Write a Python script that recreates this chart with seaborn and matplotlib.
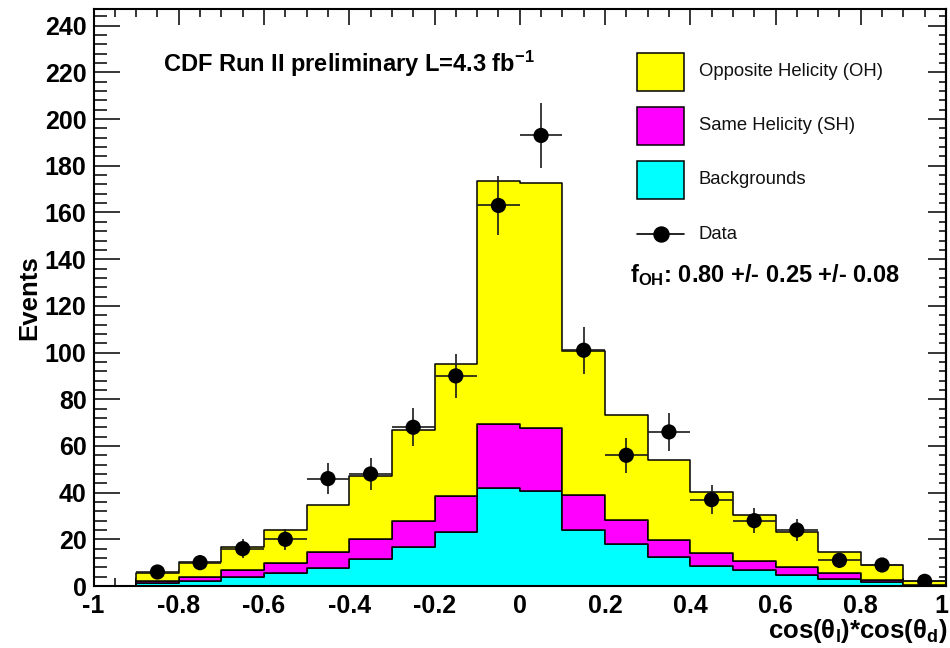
import numpy as np
import pandas as pd
import matplotlib
matplotlib.use("Agg")
import matplotlib.pyplot as plt
import seaborn as sns
from matplotlib.patches import Rectangle
from matplotlib.lines import Line2D
from matplotlib.ticker import MultipleLocator, FuncFormatter

# ---------------- data ----------------
bin_edges = [-1.0, -0.9, -0.8, -0.7, -0.6, -0.5, -0.4, -0.3, -0.2, -0.1, 0.0,
             0.1, 0.2, 0.3, 0.4, 0.5, 0.6, 0.7, 0.8, 0.9, 1.0]
bin_centers = [-0.95, -0.85, -0.75, -0.65, -0.55, -0.45, -0.35, -0.25, -0.15, -0.05,
               0.05, 0.15, 0.25, 0.35, 0.45, 0.55, 0.65, 0.75, 0.85, 0.95]
backgrounds = [0.0, 1.4, 2.0, 3.7, 5.4, 7.8, 11.4, 16.5, 23.0, 42.1,
               40.8, 24.2, 17.8, 12.3, 8.7, 6.7, 4.8, 3.1, 1.7, 0.4]
same_helicity = [0.0, 0.9, 2.0, 3.3, 4.6, 6.6, 8.6, 11.4, 15.6, 27.1,
                 26.7, 14.7, 10.3, 7.4, 5.6, 4.1, 3.2, 2.3, 0.7, 0.2]
opposite_helicity = [0.0, 3.4, 6.3, 9.5, 14.1, 20.1, 27.1, 38.8, 56.4, 104.5,
                     105.3, 61.6, 45.2, 34.2, 25.9, 19.7, 15.2, 9.1, 6.4, 1.7]

data_x = [-0.85, -0.75, -0.65, -0.55, -0.45, -0.35, -0.25, -0.15, -0.05,
          0.05, 0.15, 0.25, 0.35, 0.45, 0.55, 0.65, 0.75, 0.85, 0.95]
data_y = [6, 10, 16, 20, 46, 48, 68, 90, 163, 193, 101, 56, 66, 37, 28, 24, 11, 9, 2]
data_err = [2.4, 3.2, 4.0, 4.5, 6.8, 6.9, 8.2, 9.5, 12.8, 13.9, 10.0, 7.5, 8.1,
            6.1, 5.3, 4.9, 3.3, 3.0, 1.4]
bin_half_width = 0.05

components = ["Opposite Helicity (OH)", "Same Helicity (SH)", "Backgrounds"]
colors = ["#ffff00", "#ff00ff", "#00ffff"]
data_label = "Data"
title_text = "CDF Run II preliminary L=4.3 fb$^{-1}$"
fit_text = "f$_{OH}$: 0.80 +/- 0.25 +/- 0.08"
x_label = r"cos($\theta_{l}$)*cos($\theta_{d}$)"
y_label = "Events"
x_max_label = "1"

# ---------------- style ----------------
W, H = 950, 648
sns.set_theme(style="ticks")
plt.rcParams["font.family"] = ["Liberation Sans", "DejaVu Sans"]
plt.rcParams["font.weight"] = "bold"
plt.rcParams["mathtext.fontset"] = "custom"
plt.rcParams["mathtext.rm"] = "Liberation Sans:bold"
plt.rcParams["mathtext.it"] = "Liberation Sans:bold"
plt.rcParams["mathtext.bf"] = "Liberation Sans:bold"
plt.rcParams["mathtext.default"] = "regular"
plt.rcParams["axes.linewidth"] = 1.5
plt.rcParams["text.color"] = "black"
plt.rcParams["xtick.color"] = "black"
plt.rcParams["ytick.color"] = "black"


def fx(x):
    return x / W


def fy(y):
    return 1 - y / H


fig = plt.figure(figsize=(W / 100, H / 100), dpi=100)
fig.patch.set_facecolor("white")
ax = fig.add_axes([fx(93.5), fy(586), (946 - 93.5) / W, (586 - 8.7) / H])
ax.set_facecolor("white")
for s in ax.spines.values():
    s.set_color("black")
    s.set_linewidth(1.5)

df = pd.DataFrame({
    "x": bin_centers * 3,
    "w": opposite_helicity + same_helicity + backgrounds,
    "component": [c for c in components for _ in bin_centers],
})
sns.histplot(data=df, x="x", weights="w", hue="component", hue_order=components,
             multiple="stack", bins=bin_edges, element="step", fill=True,
             palette=dict(zip(components, colors)), alpha=1, edgecolor="black",
             linewidth=1.1, legend=False, ax=ax)

ax.errorbar(data_x, data_y, yerr=data_err, xerr=bin_half_width, fmt="none",
            ecolor="#1a1a1a", elinewidth=1.2, capsize=0, zorder=4)
sns.scatterplot(x=data_x, y=data_y, color="black", s=120, edgecolor="none",
                zorder=5, ax=ax, legend=False)

ax.set_xlim(-1, 1)
ax.set_ylim(0, 247.3)
ax.set_xlabel("")
ax.set_ylabel("")

ax.xaxis.set_major_locator(MultipleLocator(0.2))
ax.xaxis.set_minor_locator(MultipleLocator(0.05))
ax.yaxis.set_major_locator(MultipleLocator(20))
ax.yaxis.set_minor_locator(MultipleLocator(4))


def fmt_x(v, pos):
    v = round(v, 6)
    if v == 0:
        return "0"
    if v >= 1:
        return ""  # drawn separately so it stays inside the figure
    return f"{v:g}"


ax.xaxis.set_major_formatter(FuncFormatter(fmt_x))

ax.tick_params(axis="x", which="major", direction="in", length=11.5, width=1.1,
               top=True, bottom=True, labelsize=18, pad=6)
ax.tick_params(axis="x", which="minor", direction="in", length=5.8, width=1.1,
               top=True, bottom=True)
ax.tick_params(axis="y", which="major", direction="in", length=18.5, width=1.1,
               left=True, right=False, labelsize=18, pad=5)
ax.tick_params(axis="y", which="minor", direction="in", length=9.4, width=1.1,
               left=True, right=False)

sec = ax.secondary_yaxis("right")
sec.yaxis.set_major_locator(MultipleLocator(20))
sec.yaxis.set_minor_locator(MultipleLocator(4))
sec.tick_params(which="major", direction="in", length=13, width=1.1, labelright=False)
sec.tick_params(which="minor", direction="in", length=5, width=1.1, labelright=False)
sec.spines["right"].set_linewidth(1.5)

# ---------------- texts ----------------
fig.text(fx(948), fy(594.3), x_max_label, ha="right", va="top", fontsize=18)
fig.text(fx(29), fy(298), y_label, rotation=90, ha="center", va="center",
         fontsize=18.5)
fig.text(fx(947), fy(638), x_label, ha="right", va="baseline", fontsize=18.5)
fig.text(fx(163), fy(72), title_text, ha="left", va="baseline", fontsize=17)
fig.text(fx(630), fy(282), fit_text, ha="left", va="baseline", fontsize=17)

# ---------------- legend ----------------
box_left, box_w, box_h = 637, 47, 38.3
box_tops = [52.7, 106.7, 161.0]
for top, col in zip(box_tops, colors):
    fig.add_artist(Rectangle((fx(box_left), fy(top + box_h)), box_w / W, box_h / H,
                             transform=fig.transFigure, facecolor=col,
                             edgecolor="black", linewidth=1.1))
label_centers = [71.7, 126.0, 180.0, 234.0]
for yc, lab in zip(label_centers, components + [data_label]):
    fig.text(fx(699), fy(yc), lab, ha="left", va="center", fontsize=13.3,
             fontweight="normal", color="#111111")
fig.add_artist(Line2D([fx(637), fx(684)], [fy(234), fy(234)], color="black",
                      linewidth=1.2, transform=fig.transFigure))
fig.add_artist(Line2D([fx(660.5)], [fy(234)], marker="o", markersize=10.8,
                      color="black", linestyle="none", transform=fig.transFigure))

fig.savefig("out.png", dpi=100)
